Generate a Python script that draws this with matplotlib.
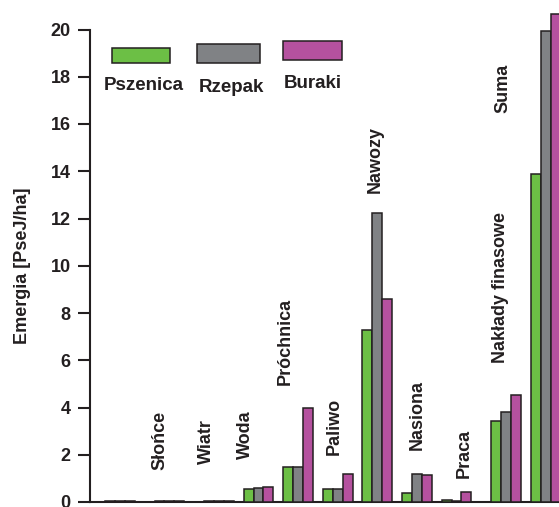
import matplotlib
matplotlib.use("Agg")
import matplotlib.pyplot as plt
from matplotlib.patches import Rectangle
import numpy as np

plt.rcParams['font.family'] = ['Liberation Sans', 'DejaVu Sans']
plt.rcParams['font.weight'] = 'bold'

categories = ['', 'Słońce', 'Wiatr', 'Woda', 'Próchnica', 'Paliwo', 'Nawozy',
              'Nasiona', 'Praca', 'Nakłady finasowe', 'Suma']
series = ['Pszenica', 'Rzepak', 'Buraki']
pszenica = [0.04, 0.04, 0.04, 0.55, 1.50, 0.57, 7.26, 0.36, 0.10, 3.42, 13.90]
rzepak   = [0.04, 0.04, 0.04, 0.60, 1.50, 0.53, 12.24, 1.18, 0.04, 3.80, 19.92]
buraki   = [0.04, 0.04, 0.04, 0.62, 4.00, 1.20, 8.60, 1.15, 0.44, 4.55, 20.67]
yticks = [0, 2, 4, 6, 8, 10, 12, 14, 16, 18, 20]

# layout (bar-width units): left edge of each group's first bar
group_x = [0, 5, 10, 14, 18, 22, 26, 30, 34, 39, 43]
# label anchor positions (x centre, y bottom) in data units
label_pos = [(0, 0), (5.6, 1.35), (10.3, 1.6), (14.2, 1.8), (18.2, 4.95),
             (23.2, 1.99), (27.3, 13.07), (31.5, 2.2), (36.3, 1.0),
             (39.9, 5.88), (40.2, 16.45)]

colors = ['#6cbf45', '#808285', '#b5519f']
edge = '#231f20'
ink = '#231f20'

W, H = 559, 507
fig = plt.figure(figsize=(W / 100, H / 100), dpi=100)
ax = fig.add_axes([90.15 / W, 5 / H, 50 * 9.9 / W, 472.5 / H])

gx = np.array(group_x, dtype=float)
for i, vals in enumerate([pszenica, rzepak, buraki]):
    ax.bar(gx + i + 0.5, vals, width=1.0, color=colors[i], edgecolor=edge,
           linewidth=1.1, clip_on=False, zorder=3)

for name, (lx, ly) in zip(categories, label_pos):
    if name:
        ax.text(lx, ly, name, rotation=90, ha='center', va='bottom',
                fontsize=13, fontweight='bold', color=ink)

ax.set_xlim(-1.5, 48.5)
ax.set_ylim(0, 20)
ax.set_yticks(yticks)
ax.set_yticklabels([str(t) for t in yticks], fontsize=13, fontweight='bold',
                   color=ink)
ax.tick_params(axis='y', direction='out', length=8.6, width=1.5, color=ink, pad=5.5)
ax.tick_params(axis='x', bottom=False, labelbottom=False)
ax.spines['top'].set_visible(False)
ax.spines['right'].set_visible(False)
for s in ['left', 'bottom']:
    ax.spines[s].set_linewidth(1.5)
    ax.spines[s].set_color(ink)
ax.set_ylabel('Emergia [PseJ/ha]', fontsize=13, fontweight='bold',
              color=ink, labelpad=14)

# legend drawn manually (pixel layout)
def fx(x):
    return x / W

def fy(y):
    return 1 - y / H

boxes = [(112, 48, 170, 63), (197, 44, 260, 63), (283, 41, 342, 60)]
text_pos = [(144, 86), (231, 87), (313, 84)]
for (x0, y0, x1, y1), c, (tx, ty), name in zip(boxes, colors, text_pos, series):
    fig.patches.append(Rectangle((fx(x0), fy(y1)), fx(x1) - fx(x0), fy(y0) - fy(y1),
                                 transform=fig.transFigure, facecolor=c,
                                 edgecolor=edge, linewidth=1.1))
    fig.text(fx(tx), fy(ty), name, ha='center', va='center', fontsize=13.5,
             fontweight='bold', color=ink)

fig.savefig('out.png', dpi=100)
